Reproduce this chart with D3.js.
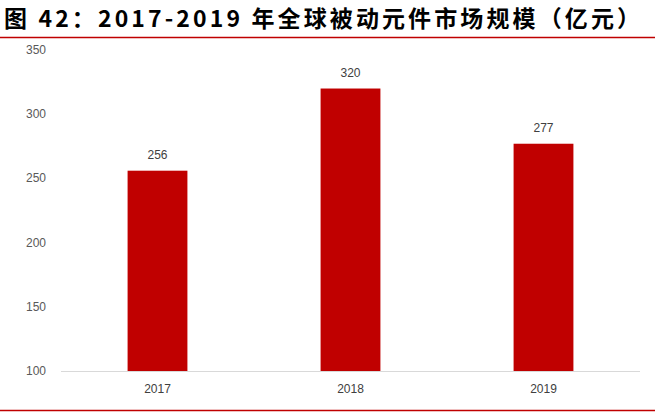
<!DOCTYPE html>
<html><head><meta charset="utf-8">
<script src="https://cdn.jsdelivr.net/npm/d3@7"></script>
<style>body{margin:0;background:#fff}</style></head>
<body><svg id="c" width="655" height="413"></svg>
<script>
const categories=["2017","2018","2019"];
const values=[256,320,277];
const yTicks=[100,150,200,250,300,350];
const title="图 42：2017-2019 年全球被动元件市场规模（亿元）";
const svg=d3.select("#c");
const t=svg.append("text").attr("x",4).attr("y",27).attr("font-family","Noto Sans CJK SC").attr("font-weight","bold").attr("font-size",23).attr("fill","#000").text(title);
const w=t.node().getComputedTextLength();
t.attr("textLength",636).attr("lengthAdjust","spacing");
svg.append("line").attr("x1",0).attr("x2",655).attr("y1",37.5).attr("y2",37.5).attr("stroke","#c00000").attr("stroke-width",1.5);
svg.append("line").attr("x1",0).attr("x2",655).attr("y1",410.5).attr("y2",410.5).attr("stroke","#c00000").attr("stroke-width",1.5);
const x=d3.scaleBand().domain(categories).range([61,640]).paddingInner(0.69).paddingOuter(0.345);
const y=d3.scaleLinear().domain([100,350]).range([371,50]);
const font="Liberation Sans";
svg.append("g").selectAll("text").data(yTicks).join("text").attr("x",46).attr("y",d=>y(d)+4).attr("text-anchor","end").attr("font-family",font).attr("font-size",12).attr("fill","#595959").text(d=>d);
svg.append("line").attr("x1",61).attr("x2",640).attr("y1",371.5).attr("y2",371.5).attr("stroke","#d9d9d9");
svg.append("g").selectAll("rect").data(values).join("rect").attr("x",(d,i)=>x(categories[i])).attr("width",x.bandwidth()).attr("y",d=>y(d)).attr("height",d=>y(100)-y(d)).attr("fill","#c00000");
svg.append("g").selectAll("text").data(values).join("text").attr("x",(d,i)=>x(categories[i])+x.bandwidth()/2).attr("y",d=>y(d)-12).attr("text-anchor","middle").attr("font-family",font).attr("font-size",12).attr("fill","#404040").text(d=>d);
svg.append("g").selectAll("text").data(categories).join("text").attr("x",d=>x(d)+x.bandwidth()/2).attr("y",393).attr("text-anchor","middle").attr("font-family",font).attr("font-size",12).attr("fill","#404040").text(d=>d);
</script></body></html>
